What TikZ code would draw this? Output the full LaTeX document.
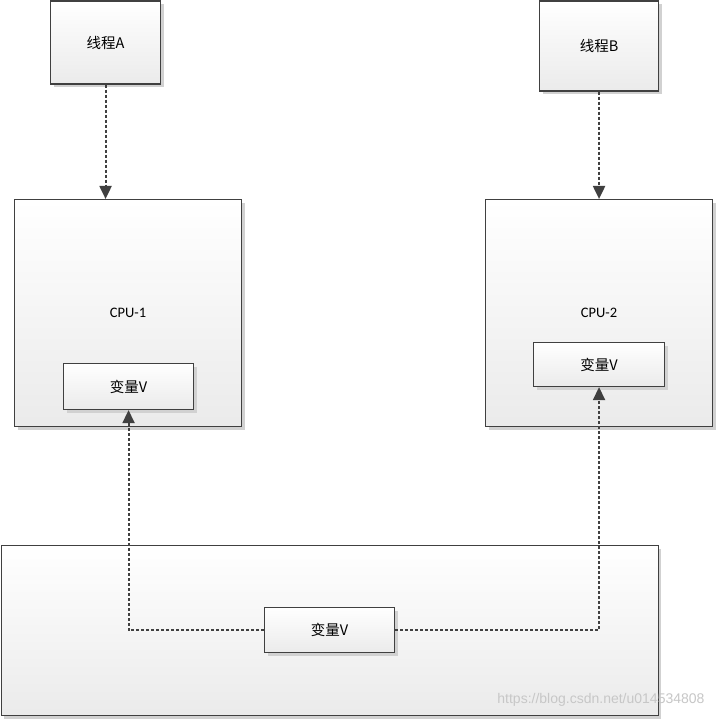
\documentclass[tikz,border=0pt]{standalone}
\usepackage{fontspec}
\setmainfont{Carlito}
\newfontfamily\cjk{Noto Sans CJK SC}
\newfontfamily\wmfont{Liberation Sans}
\usetikzlibrary{shadows,arrows.meta}
\definecolor{edge}{HTML}{404040}
\tikzset{
  box/.style={draw=edge, line width=1.1pt, top color=white, bottom color=black!8,
    drop shadow={shadow xshift=3pt, shadow yshift=-3pt, fill=black!18, opacity=1},
    anchor=north west, inner sep=0pt, font=\fontsize{14.5}{16}\selectfont},
  conn/.style={draw=edge, line width=2pt, dash pattern=on 3pt off 2pt,
    -{Triangle[length=13pt,width=12pt]}},
  link/.style={draw=edge, line width=2pt, dash pattern=on 3pt off 2pt}
}
\begin{document}
\begin{tikzpicture}[x=1pt,y=-1pt]
\path[fill=white] (0,0) rectangle (716,719);
\useasboundingbox (0,0) rectangle (716,719);
\node[box, minimum width=110pt, minimum height=83pt] (ta) at (50,0.5) {\cjk{线程}A};
\node[box, minimum width=119pt, minimum height=90pt] (tb) at (539,0.5) {\cjk{线程}B};
\node[box, minimum width=227pt, minimum height=227pt] (cpu1) at (14,199) {CPU-1};
\node[box, minimum width=227pt, minimum height=227pt] (cpu2) at (485,199) {CPU-2};
\node[box, minimum width=657pt, minimum height=170pt] (mem) at (0.5,545) {};
\node[box, minimum width=130pt, minimum height=46pt] (v1) at (63,363) {\cjk{变量}V};
\node[box, minimum width=131pt, minimum height=44pt] (v2) at (533,342) {\cjk{变量}V};
\node[box, minimum width=130pt, minimum height=45pt] (mv) at (264,607) {\cjk{变量}V};
\draw[conn] (ta.south) -- (ta.south |- cpu1.north);
\draw[conn] (tb.south) -- (tb.south |- cpu2.north);
\draw[conn] (mv.west) -| (v1.south);
\draw[conn] (mv.east) -| (v2.south);
\node[text=black!22, font=\wmfont\fontsize{14}{16}\selectfont, anchor=east] (wm) at (708,700) {https://blog.csdn.net/u014534808};
\end{tikzpicture}
\end{document}
